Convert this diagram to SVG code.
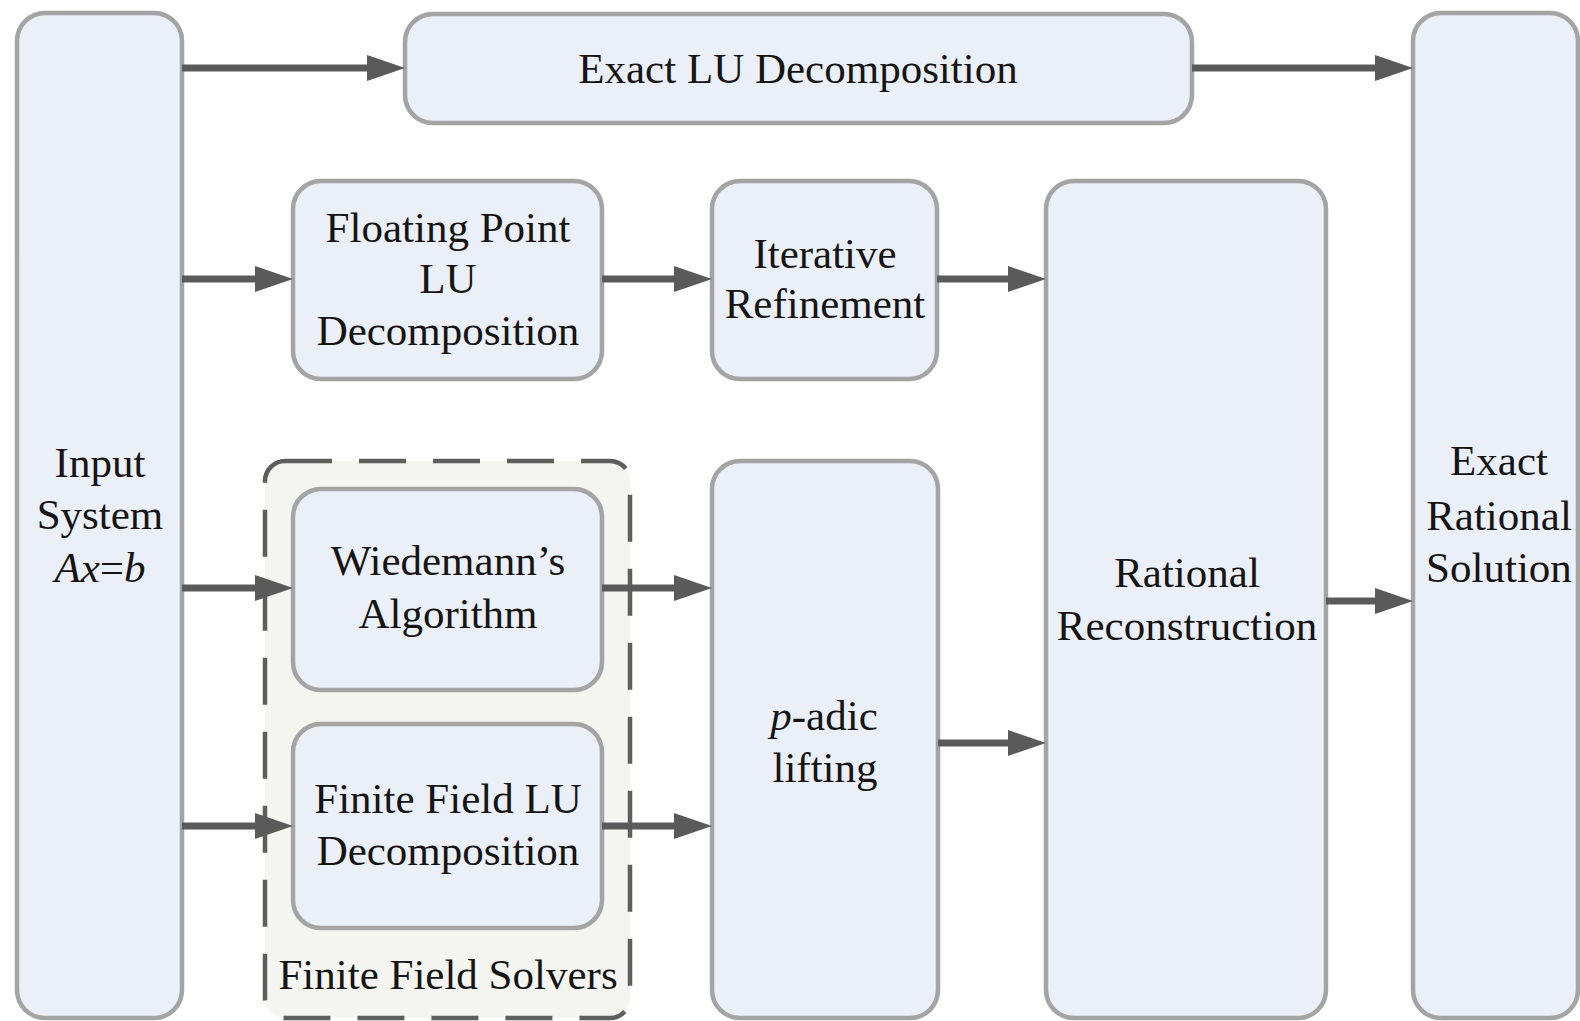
<svg xmlns="http://www.w3.org/2000/svg" width="1580" height="1021" viewBox="0 0 1580 1021">
<style>
.box{fill:#ebeff8;stroke:#a4a4a4;stroke-width:4.5}
.grp{fill:#f4f5f1;stroke:#5e5e5e;stroke-width:4.5;stroke-dasharray:47 27}
.lbl{font-family:"Liberation Serif","Times New Roman",serif;font-size:43px;fill:#151515;text-anchor:middle}
.conn{stroke:#5a5a5a;stroke-width:7;fill:none;marker-end:url(#ah)}
.it{font-style:italic}
</style>
<defs>
<marker id="ah" markerUnits="userSpaceOnUse" markerWidth="40" markerHeight="28" refX="18" refY="13" orient="auto">
<path d="M0,0 L38,13 L0,26 z" fill="#5a5a5a"/>
</marker>
</defs>
<rect width="1580" height="1021" fill="#ffffff"/>
<g id="finite-field-solvers">
<rect class="grp" x="265" y="461" width="365" height="557" rx="20"/>
<text class="lbl" x="448" y="989">Finite Field Solvers</text>
</g>
<g id="input-system">
<rect class="box" x="17" y="13" width="165" height="1005" rx="28"/>
<text class="lbl" x="100" y="477">Input</text>
<text class="lbl" x="100" y="529">System</text>
<text class="lbl" x="100" y="582"><tspan class="it">Ax</tspan>=<tspan class="it">b</tspan></text>
</g>
<g id="exact-lu">
<rect class="box" x="405" y="14" width="787" height="109" rx="28"/>
<text class="lbl" x="798" y="83">Exact LU Decomposition</text>
</g>
<g id="fp-lu">
<rect class="box" x="293" y="181" width="309" height="198" rx="28"/>
<text class="lbl" x="448" y="242">Floating Point</text>
<text class="lbl" x="448" y="293">LU</text>
<text class="lbl" x="448" y="345">Decomposition</text>
</g>
<g id="iterative-refinement">
<rect class="box" x="712" y="181" width="225" height="198" rx="28"/>
<text class="lbl" x="825" y="268">Iterative</text>
<text class="lbl" x="825" y="318">Refinement</text>
</g>
<g id="wiedemann">
<rect class="box" x="293" y="489" width="309" height="201" rx="28"/>
<text class="lbl" x="448" y="575">Wiedemann’s</text>
<text class="lbl" x="448" y="628">Algorithm</text>
</g>
<g id="ff-lu">
<rect class="box" x="293" y="724" width="309" height="204" rx="28"/>
<text class="lbl" x="448" y="813">Finite Field LU</text>
<text class="lbl" x="448" y="865">Decomposition</text>
</g>
<g id="p-adic">
<rect class="box" x="712" y="461" width="226" height="557" rx="28"/>
<text class="lbl" x="824" y="730"><tspan class="it">p</tspan>-adic</text>
<text class="lbl" x="825" y="782">lifting</text>
</g>
<g id="rational-reconstruction">
<rect class="box" x="1046" y="181" width="280" height="837" rx="28"/>
<text class="lbl" x="1187" y="587">Rational</text>
<text class="lbl" x="1187" y="640">Reconstruction</text>
</g>
<g id="exact-rational-solution">
<rect class="box" x="1413" y="13" width="165" height="1005" rx="28"/>
<text class="lbl" x="1499" y="475">Exact</text>
<text class="lbl" x="1499" y="530">Rational</text>
<text class="lbl" x="1499" y="582">Solution</text>
</g>
<g id="connectors">
<line class="conn" x1="182" y1="68" x2="385" y2="68"/>
<line class="conn" x1="1192" y1="68" x2="1393" y2="68"/>
<line class="conn" x1="182" y1="279" x2="273" y2="279"/>
<line class="conn" x1="602" y1="279" x2="692" y2="279"/>
<line class="conn" x1="937" y1="279" x2="1026" y2="279"/>
<line class="conn" x1="182" y1="588" x2="273" y2="588"/>
<line class="conn" x1="602" y1="588" x2="692" y2="588"/>
<line class="conn" x1="182" y1="826" x2="273" y2="826"/>
<line class="conn" x1="602" y1="826" x2="692" y2="826"/>
<line class="conn" x1="938" y1="743" x2="1026" y2="743"/>
<line class="conn" x1="1326" y1="601" x2="1393" y2="601"/>
</g>
</svg>
